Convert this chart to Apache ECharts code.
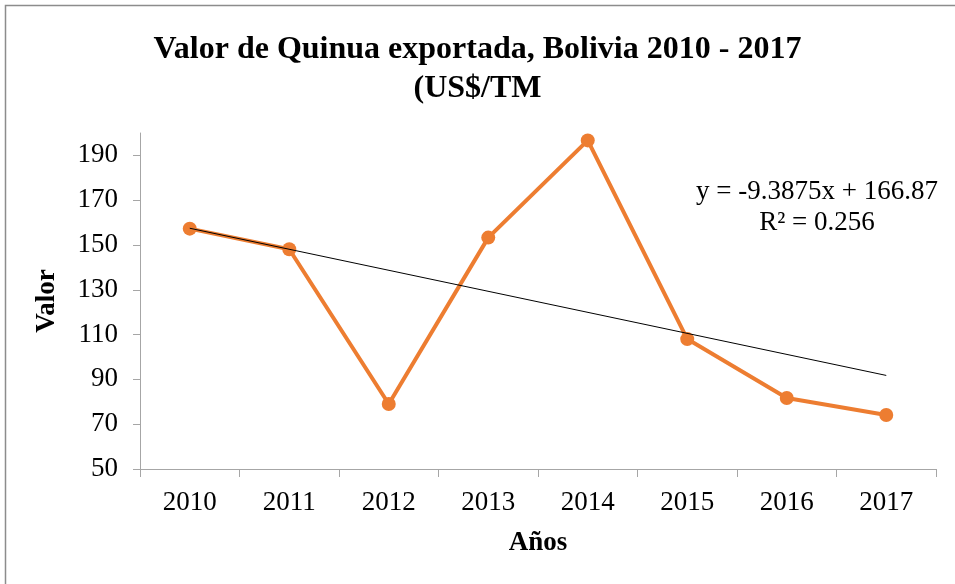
<!DOCTYPE html>
<html><head><meta charset="utf-8">
<script src="https://cdn.jsdelivr.net/npm/echarts@6/dist/echarts.min.js"></script>
<style>html,body{margin:0;padding:0;background:#fff}#c{width:955px;height:584px}</style>
</head><body><div id="c"></div>
<script>
var categories = ['2010','2011','2012','2013','2014','2015','2016','2017'];
var valores = [157.3, 148.1, 79.0, 153.3, 196.7, 108.0, 81.7, 74.1];
var yTicks = [50, 70, 90, 110, 130, 150, 170, 190];
var trendSlope = -9.3875;
var trendIntercept = 166.87;
var trendText = ['y = -9.3875x + 166.87', 'R² = 0.256'];

var trendData = [
  [categories[0], trendSlope * 1 + trendIntercept],
  [categories[categories.length - 1], trendSlope * categories.length + trendIntercept]
];
var serif = '"Liberation Serif","Times New Roman",serif';
var chart = echarts.init(document.getElementById('c'));
chart.setOption({
  animation: false,
  backgroundColor: '#fff',
  title: {
    text: 'Valor de Quinua exportada, Bolivia 2010 - 2017\n(US$/TM',
    left: 'center', top: 25,
    textStyle: {fontFamily: serif, fontWeight: 'bold', fontSize: 32, color: '#000', lineHeight: 39}
  },
  grid: {left: 140, right: 19, top: 133, bottom: 115},
  xAxis: {
    type: 'category', data: categories, boundaryGap: true,
    name: 'Años', nameLocation: 'middle', nameGap: 61,
    nameTextStyle: {fontFamily: serif, fontWeight: 'bold', fontSize: 27, color: '#000'},
    axisLine: {lineStyle: {color: '#a6a6a6', width: 1}},
    axisTick: {show: true, length: 8, lineStyle: {color: '#a6a6a6'}},
    axisLabel: {fontFamily: serif, fontSize: 27, color: '#000', margin: 20},
    splitLine: {show: false}
  },
  yAxis: {
    type: 'value', min: 50, max: 200,
    name: 'Valor', nameLocation: 'middle', nameGap: 79, nameRotate: 90,
    nameTextStyle: {fontFamily: serif, fontWeight: 'bold', fontSize: 27, color: '#000'},
    axisLine: {show: true, lineStyle: {color: '#a6a6a6', width: 1}},
    axisTick: {show: true, length: 7, lineStyle: {color: '#a6a6a6'}, customValues: yTicks},
    axisLabel: {fontFamily: serif, fontSize: 27, color: '#000', margin: 22, customValues: yTicks},
    splitLine: {show: false}
  },
  series: [
    {
      type: 'line', data: valores, symbol: 'circle', symbolSize: 14,
      lineStyle: {color: '#ED7D31', width: 4},
      itemStyle: {color: '#ED7D31'}, z: 2
    },
    {
      type: 'line', data: trendData, symbol: 'none',
      lineStyle: {color: '#000', width: 1}, z: 3, silent: true
    }
  ],
  graphic: [
    {type: 'rect', shape: {x: 5.5, y: 5.5, width: 1000, height: 700},
     style: {fill: 'none', stroke: '#8c8c8c', lineWidth: 1.5}, silent: true},
    {type: 'text', x: 817, y: 192,
     style: {text: trendText[0], fontFamily: serif, fontSize: 27, fill: '#000', align: 'center', verticalAlign: 'middle'}},
    {type: 'text', x: 817, y: 223,
     style: {text: trendText[1], fontFamily: serif, fontSize: 27, fill: '#000', align: 'center', verticalAlign: 'middle'}}
  ]
});
</script></body></html>
